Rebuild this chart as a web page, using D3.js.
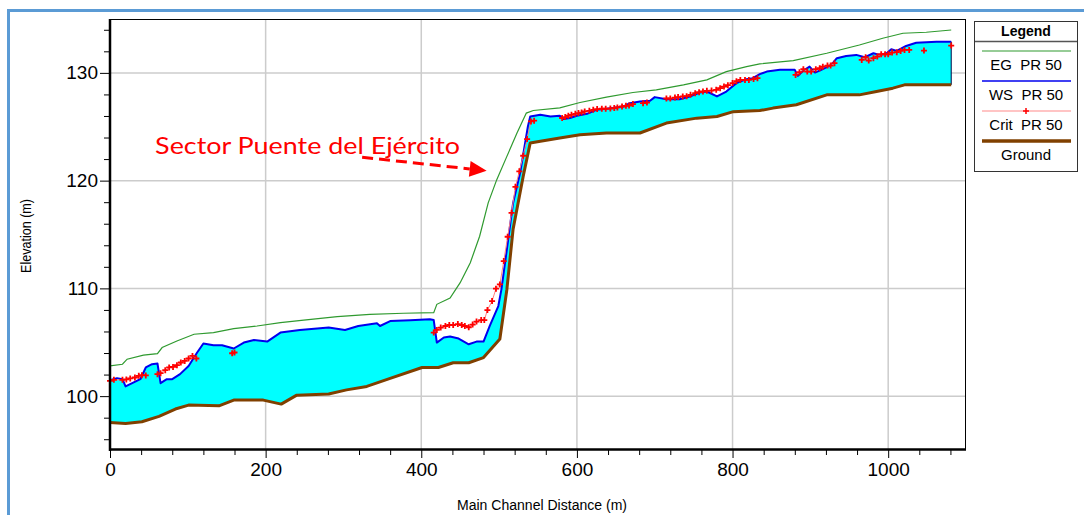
<!DOCTYPE html>
<html>
<head>
<meta charset="utf-8">
<script src="https://cdn.jsdelivr.net/npm/d3@7"></script>
<style>
body { margin: 0; background: #fff; }
svg { display: block; background: #fff; }
</style>
</head>
<body>
<svg width="1084" height="515"></svg>
<script>
// profile data, [distance (m), elevation (m)]
var groundProfile = [
  [0, 97.55], [20, 97.47], [41, 97.62], [63, 98.12], [84, 98.8], [101, 99.17], [140, 99.1],
  [159, 99.63], [197, 99.63], [220, 99.26], [240, 100.09], [281, 100.19], [304, 100.58],
  [330, 100.9], [360, 101.64], [401, 102.66], [422, 102.66], [441, 103.1], [461, 103.1],
  [480, 103.58], [501, 105.3], [510, 109.9], [518, 115.5], [531, 120.4], [540, 123.5],
  [553, 123.66], [578, 123.95], [604, 124.26], [638, 124.42], [681, 124.42], [715, 125.34],
  [754, 125.8], [780, 125.95], [801, 126.4], [835, 126.5], [852, 126.73], [882, 127.04],
  [921, 127.96], [963, 127.96], [985, 128.27], [1006, 128.58], [1021, 128.89], [1081, 128.89]
];

var wsProfile = [
  [0, 101.48], [9, 101.67], [16, 101.57], [20, 100.9], [39, 101.57], [46, 102.66], [54, 102.96],
  [61, 103.03], [65, 101.2], [73, 101.57], [80, 101.57], [90, 102.04], [101, 102.8], [112, 104.05],
  [120, 104.88], [133, 104.72], [144, 104.72], [159, 104.42], [172, 104.97], [185, 105.21],
  [202, 105.06], [219, 105.9], [244, 106.14], [281, 106.36], [302, 106.14], [319, 106.51],
  [343, 106.76], [347, 106.51], [360, 106.97], [386, 107.04], [411, 107.13], [416, 107.06],
  [420, 104.97], [429, 105.44], [437, 105.53], [448, 105.34], [461, 104.81], [471, 105.06],
  [480, 105.06], [488, 106.51], [499, 108.36], [503, 109.91], [510, 113.61], [518, 117.93],
  [527, 120.71], [537, 125.03], [540, 125.95], [553, 126.11], [566, 125.95], [578, 126.02],
  [583, 125.71], [591, 125.81], [600, 126.02], [613, 126.2], [625, 126.57], [638, 126.67],
  [660, 126.88], [668, 127.19], [681, 127.34], [694, 127.41], [700, 127.75], [715, 127.56],
  [732, 127.56], [745, 127.81], [758, 128.18], [767, 128.27], [780, 127.81], [792, 128.27],
  [805, 129.05], [818, 129.42], [826, 129.51], [835, 129.88], [844, 130.12], [861, 130.28],
  [880, 130.28], [884, 129.72], [891, 130.21], [899, 130.58], [906, 130.03], [914, 130.28],
  [927, 130.74], [934, 131.36], [946, 131.57], [959, 131.67], [970, 131.45], [981, 131.82],
  [989, 131.67], [998, 131.82], [1004, 132.19], [1011, 132.04], [1023, 132.5], [1036, 132.8],
  [1062, 132.9], [1081, 132.9]
];

var egProfile = [
  [0, 102.8], [16, 102.96], [22, 103.43], [43, 103.8], [61, 103.95], [67, 104.51], [86, 105.12],
  [108, 105.74], [133, 105.9], [159, 106.27], [189, 106.51], [219, 106.82], [249, 107.06],
  [292, 107.38], [334, 107.59], [377, 107.69], [416, 107.75], [420, 108.52], [437, 109.1],
  [450, 110.53], [463, 112.38], [475, 114.84], [486, 117.94], [497, 120.09], [510, 122.25],
  [523, 124.42], [535, 126.27], [544, 126.51], [578, 126.76], [604, 127.25], [638, 127.75],
  [672, 128.18], [702, 128.43], [737, 128.89], [767, 129.35], [792, 130.12], [818, 130.58],
  [835, 130.83], [878, 131.14], [921, 131.82], [963, 132.59], [993, 133.21], [1019, 133.68],
  [1049, 133.77], [1081, 133.98]
];

// critical depth, null = not computed
var critProfile = [
  [0, 101.42], [5, 101.51], [16, 101.51], [21, 101.55], [26, 101.64], [32, 101.73], [37, 101.88],
  [41, 101.94], [46, 101.92], null,
  [61, 102.04], [65, 102.13], [71, 102.41], [76, 102.66], [81, 102.71], [86, 102.87], [91, 103.12],
  [96, 103.27], [101, 103.49], [106, 103.73], [111, 103.49], null,
  [157, 103.98], [160, 104.05], null,
  [416, 105.9], [420, 106.14], [425, 106.36], [431, 106.51], [436, 106.6], [441, 106.6],
  [447, 106.69], [452, 106.6], [456, 106.51], [461, 106.39], [466, 106.64], [471, 106.92],
  [477, 107.06], [481, 107.06], [485, 107.99], [491, 108.82], [496, 109.97], [501, 110.37],
  [506, 112.53], [511, 114.79], [516, 117.01], [521, 119.42], [526, 120.86], [531, 122.31],
  [536, 123.86], [541, 125.49], [545, 125.56], null,
  [581, 125.81], [585, 125.9], [589, 126.02], [593, 126.11], [598, 126.2], [602, 126.27],
  [606, 126.32], [610, 126.42], [616, 126.48], [621, 126.57], [626, 126.64], [632, 126.67],
  [637, 126.67], [643, 126.69], [648, 126.73], [652, 126.79], [658, 126.88], [663, 126.94],
  [667, 126.97], [672, 127.1], null,
  [685, 127.19], [690, 127.25], null,
  [715, 127.62], [720, 127.62], [726, 127.71], [730, 127.75], [736, 127.81], [741, 127.84],
  [746, 127.96], [752, 128.12], [757, 128.21], [762, 128.27], [767, 128.33], [773, 128.36],
  [779, 128.43], [784, 128.58], [789, 128.73], [794, 128.86], [800, 129.05], [805, 129.23],
  [810, 129.35], [816, 129.35], [821, 129.35], [827, 129.42], [832, 129.51], null,
  [881, 129.81], [886, 130.06], [891, 130.34], [896, 130.12], [901, 130.12], [907, 130.34],
  [912, 130.43], [916, 130.58], [922, 130.68], [926, 130.68], [931, 130.9], null,
  [966, 131.2], [971, 131.45], [975, 131.14], [981, 131.36], [986, 131.51], [991, 131.73],
  [996, 131.73], [1000, 131.73], [1005, 131.88], [1011, 131.92], [1016, 132.04], [1021, 132.13],
  [1027, 132.13], null,
  [1046, 132.07], null,
  [1081, 132.53]
];

var xMajor = [0, 200, 400, 600, 800, 1000];
var yMajor = [100, 110, 120, 130];
var legendLabels = ["EG  PR 50", "WS  PR 50", "Crit  PR 50", "Ground"];
var annoText = "Sector Puente del Ejército";
var annoPos = [58, 122.45];
var arrowFrom = [324, 122.17];
var arrowTo = [484, 120.92];

var svg = d3.select("svg");
var font = "'Liberation Sans', Arial, sans-serif";

var x = d3.scaleLinear().domain([0, 1100]).range([110, 966]);
var y = d3.scaleLinear().domain([95, 135]).range([450, 19]);

var xMinor = d3.range(40, 1100, 40).filter(function(d) { return d % 200 !== 0; });
var yMinor = d3.range(96, 135, 2).filter(function(d) { return d % 10 !== 0; });

// outer blue frame
svg.append("path")
  .attr("d", "M8.5,515V10.5H1084")
  .attr("fill", "none")
  .attr("stroke", "#5b9bd5")
  .attr("stroke-width", 3);

// grid
var grid = svg.append("g");
grid.selectAll(".hg").data(yMajor).enter().append("line")
  .attr("x1", x(0)).attr("x2", x(1100))
  .attr("y1", function(d) { return y(d); }).attr("y2", function(d) { return y(d); })
  .attr("stroke", "#cccccc").attr("stroke-width", 1.5);
grid.selectAll(".vg").data(xMajor.slice(1)).enter().append("line")
  .attr("y1", y(95)).attr("y2", y(135))
  .attr("x1", function(d) { return x(d); }).attr("x2", function(d) { return x(d); })
  .attr("stroke", "#cccccc").attr("stroke-width", 1.5);

var line = d3.line()
  .defined(function(d) { return d !== null; })
  .x(function(d) { return x(d[0]); })
  .y(function(d) { return y(d[1]); });

// water between WS and ground
var water = wsProfile.concat(groundProfile.slice().reverse());
svg.append("path").datum(water)
  .attr("d", line)
  .attr("fill", "#00ffff")
  .attr("stroke", "none");

var last = wsProfile.length - 1;
svg.append("line")
  .attr("x1", x(wsProfile[last][0])).attr("x2", x(wsProfile[last][0]))
  .attr("y1", y(wsProfile[last][1])).attr("y2", y(groundProfile[groundProfile.length - 1][1]))
  .attr("stroke", "#000040").attr("stroke-width", 1);

svg.append("path").datum(groundProfile)
  .attr("d", line).attr("fill", "none")
  .attr("stroke", "#804000").attr("stroke-width", 3).attr("stroke-linejoin", "round");

svg.append("path").datum(wsProfile)
  .attr("d", line).attr("fill", "none")
  .attr("stroke", "#0000ee").attr("stroke-width", 2).attr("stroke-linejoin", "round");

svg.append("path").datum(egProfile)
  .attr("d", line).attr("fill", "none")
  .attr("stroke", "#2f9a2f").attr("stroke-width", 1.2);

svg.append("path").datum(critProfile)
  .attr("d", line).attr("fill", "none")
  .attr("stroke", "#ff8080").attr("stroke-width", 1);

function plus(cx, cy, r) {
  return "M" + (cx - r) + "," + cy + "H" + (cx + r) + "M" + cx + "," + (cy - r) + "V" + (cy + r);
}

svg.append("g").selectAll("path")
  .data(critProfile.filter(function(d) { return d !== null; }))
  .enter().append("path")
  .attr("d", function(d) { return plus(x(d[0]), y(d[1]), 3); })
  .attr("stroke", "#ff0000").attr("stroke-width", 1.8);

// annotation
svg.append("text")
  .attr("x", x(annoPos[0])).attr("y", y(annoPos[1]))
  .attr("fill", "#ff0000")
  .attr("font-family", "Lato, 'Open Sans', sans-serif")
  .attr("font-size", 24)
  .attr("textLength", 305).attr("lengthAdjust", "spacingAndGlyphs")
  .text(annoText);

var sx = x(arrowFrom[0]), sy = y(arrowFrom[1]), tx = x(arrowTo[0]), ty = y(arrowTo[1]);
var len = Math.sqrt((tx - sx) * (tx - sx) + (ty - sy) * (ty - sy));
var ux = (tx - sx) / len, uy = (ty - sy) / len;
var bx = tx - 17 * ux, by = ty - 17 * uy;
svg.append("line")
  .attr("x1", sx).attr("y1", sy).attr("x2", bx).attr("y2", by)
  .attr("stroke", "#ff0000").attr("stroke-width", 3)
  .attr("stroke-dasharray", "11,6");
svg.append("path")
  .attr("d", "M" + tx + "," + ty + "L" + (bx - 8 * uy) + "," + (by + 8 * ux) +
    "L" + (bx + 8 * uy) + "," + (by - 8 * ux) + "Z")
  .attr("fill", "#ff0000");

// axes
function styleAxis(g) {
  g.select(".domain").remove();
  g.selectAll("line").attr("stroke", "#000");
  g.selectAll("text").attr("font-family", font).attr("font-size", 19).attr("fill", "#000");
}

svg.append("g").attr("transform", "translate(0,450)")
  .call(d3.axisBottom(x).tickValues(xMajor).tickSize(8).tickPadding(5).tickFormat(d3.format("d")))
  .call(styleAxis);
svg.append("g").attr("transform", "translate(0,450)")
  .call(d3.axisBottom(x).tickValues(xMinor).tickSize(5).tickFormat(""))
  .call(styleAxis);
svg.append("g").attr("transform", "translate(110,0)")
  .call(d3.axisLeft(y).tickValues(yMajor).tickSize(10).tickPadding(2).tickFormat(d3.format("d")))
  .call(styleAxis);
svg.append("g").attr("transform", "translate(110,0)")
  .call(d3.axisLeft(y).tickValues(yMinor).tickSize(6).tickFormat(""))
  .call(styleAxis);

// plot frame
svg.append("rect")
  .attr("x", 110.5).attr("y", 19.5).attr("width", 855).attr("height", 430)
  .attr("fill", "none").attr("stroke", "#000").attr("stroke-width", 1);
svg.append("line").attr("x1", 110).attr("x2", 110).attr("y1", 19).attr("y2", 451)
  .attr("stroke", "#000").attr("stroke-width", 2.5);
svg.append("line").attr("x1", 109).attr("x2", 966).attr("y1", 449.5).attr("y2", 449.5)
  .attr("stroke", "#000").attr("stroke-width", 2.5);

// axis titles
svg.append("text")
  .attr("x", 542).attr("y", 510)
  .attr("text-anchor", "middle")
  .attr("font-family", font).attr("font-size", 14)
  .attr("textLength", 170).attr("lengthAdjust", "spacingAndGlyphs")
  .text("Main Channel Distance (m)");
svg.append("text")
  .attr("transform", "translate(31,236) rotate(-90)")
  .attr("text-anchor", "middle")
  .attr("font-family", font).attr("font-size", 14)
  .attr("textLength", 74).attr("lengthAdjust", "spacingAndGlyphs")
  .text("Elevation (m)");

// legend
var leg = svg.append("g");
leg.append("rect")
  .attr("x", 974.5).attr("y", 21.5).attr("width", 103).attr("height", 150)
  .attr("fill", "#fff").attr("stroke", "#333").attr("stroke-width", 1);
leg.append("line")
  .attr("x1", 975).attr("x2", 1077).attr("y1", 41.5).attr("y2", 41.5)
  .attr("stroke", "#555").attr("stroke-width", 1.5);
leg.append("text")
  .attr("x", 1026).attr("y", 36).attr("text-anchor", "middle")
  .attr("font-family", font).attr("font-size", 14).attr("font-weight", "bold")
  .text("Legend");

var legStyles = [
  {stroke: "#2f9a2f", width: 1.2},
  {stroke: "#0000ee", width: 1.5},
  {stroke: "#ffb0b0", width: 1.5},
  {stroke: "#804000", width: 3.5}
];
legendLabels.forEach(function(label, i) {
  var ly = 51 + i * 30;
  leg.append("line")
    .attr("x1", 982).attr("x2", 1071).attr("y1", ly).attr("y2", ly)
    .attr("stroke", legStyles[i].stroke).attr("stroke-width", legStyles[i].width);
  if (i === 2) {
    leg.append("path").attr("d", plus(1026, ly, 3))
      .attr("stroke", "#ff0000").attr("stroke-width", 1.5);
  }
  leg.append("text")
    .attr("x", 1026).attr("y", ly + 19).attr("text-anchor", "middle")
    .attr("font-family", font).attr("font-size", 15)
    .style("white-space", "pre")
    .text(label);
});
</script>
</body>
</html>
